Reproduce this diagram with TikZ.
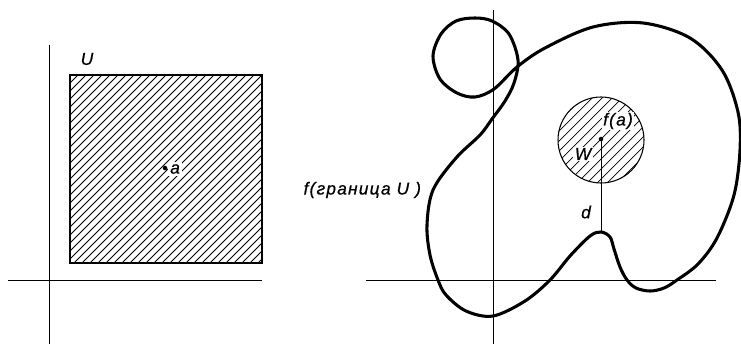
\documentclass[tikz,border=0pt]{standalone}
\usepackage{fontspec}
\setmainfont{Liberation Sans}
\newfontfamily\labfont[LetterSpace=7,FakeBold=0.6]{Liberation Sans}
\begin{document}
\begin{tikzpicture}[x=0.75pt,y=-0.75pt,
  axis/.style={line width=0.75pt},
  curve/.style={line width=2.3pt,line join=round},
  hatchline/.style={line width=0.55pt},
  lab/.style={font=\labfont\itshape\fontsize{13}{15}\selectfont,inner sep=1pt},
  dot/.style={circle,fill=black,inner sep=0pt,minimum size=3.4pt}]
\useasboundingbox (0,0) rectangle (741,344);
% ---------- left panel ----------
\coordinate (lyT) at (49,45);
\coordinate (lyB) at (49,344);
\coordinate (lxL) at (8,280);
\coordinate (lxR) at (262,280);
\draw[axis] (lyT) -- (lyB);
\draw[axis] (lxL) -- (lxR);
\begin{scope}
  \clip (70,75) rectangle (262,263);
  \foreach \k in {145,153,...,530}
    \draw[hatchline] (\k-263,263) -- (\k-75,75);
\end{scope}
\draw[line width=1.1pt] (70,75) rectangle (262,263);
\node[lab] (U) at (87,59) {U};
\node[dot] (a) at (165,168) {};
\node[lab,fill=white,anchor=west,inner sep=1.5pt] (alab) at (168,169) {a};
% ---------- right panel ----------
\coordinate (ryT) at (493,10);
\coordinate (ryB) at (493,344);
\coordinate (rxL) at (366,280);
\coordinate (rxR) at (716,280);
\draw[axis] (ryT) -- (ryB);
\draw[axis] (rxL) -- (rxR);
\begin{scope}
  \clip (601,140) circle (43);
  \foreach \k in {670,680,...,815}
    \draw[hatchline] (\k-190,190) -- (\k-90,90);
\end{scope}
\draw[line width=0.8pt] (601,140) circle (43);
\node[lab,fill=white] (falab) at (618,121) {f(a)};
\node[lab,fill=white] (W) at (583,154) {W};
\node[dot] (fa) at (601,139) {};
\coordinate (bump) at (601,232);
\draw[line width=0.7pt] (fa.center) -- (bump);
\node[lab] (d) at (586,212) {d};
\node[lab,anchor=west] (fb) at (302,190) {f(граница U )};
\draw[curve] plot[smooth cycle,tension=0.55] coordinates {
 (517,67) (545,48) (593,27) (643,23) (690,38) (722,70) (738,112) (740,150)
 (734,195) (717,238) (698,264) (677,280) (664,288) (650,291) (636,288)
 (627,280) (620,267) (614,249) (610,237) (601,232) (590,236) (570,256)
 (550,280) (525,301) (493,316) (466,311) (446,295) (438,280) (430,255)
 (427,225) (433,190) (456,158) (480,135) (492,119) (505,101) (514,83)
 (518,60) (509,34) (492,21) (475,18) (456,21) (441,34) (433,56) (440,79)
 (457,93) (475,97) (494,89)};
\end{tikzpicture}
\end{document}
